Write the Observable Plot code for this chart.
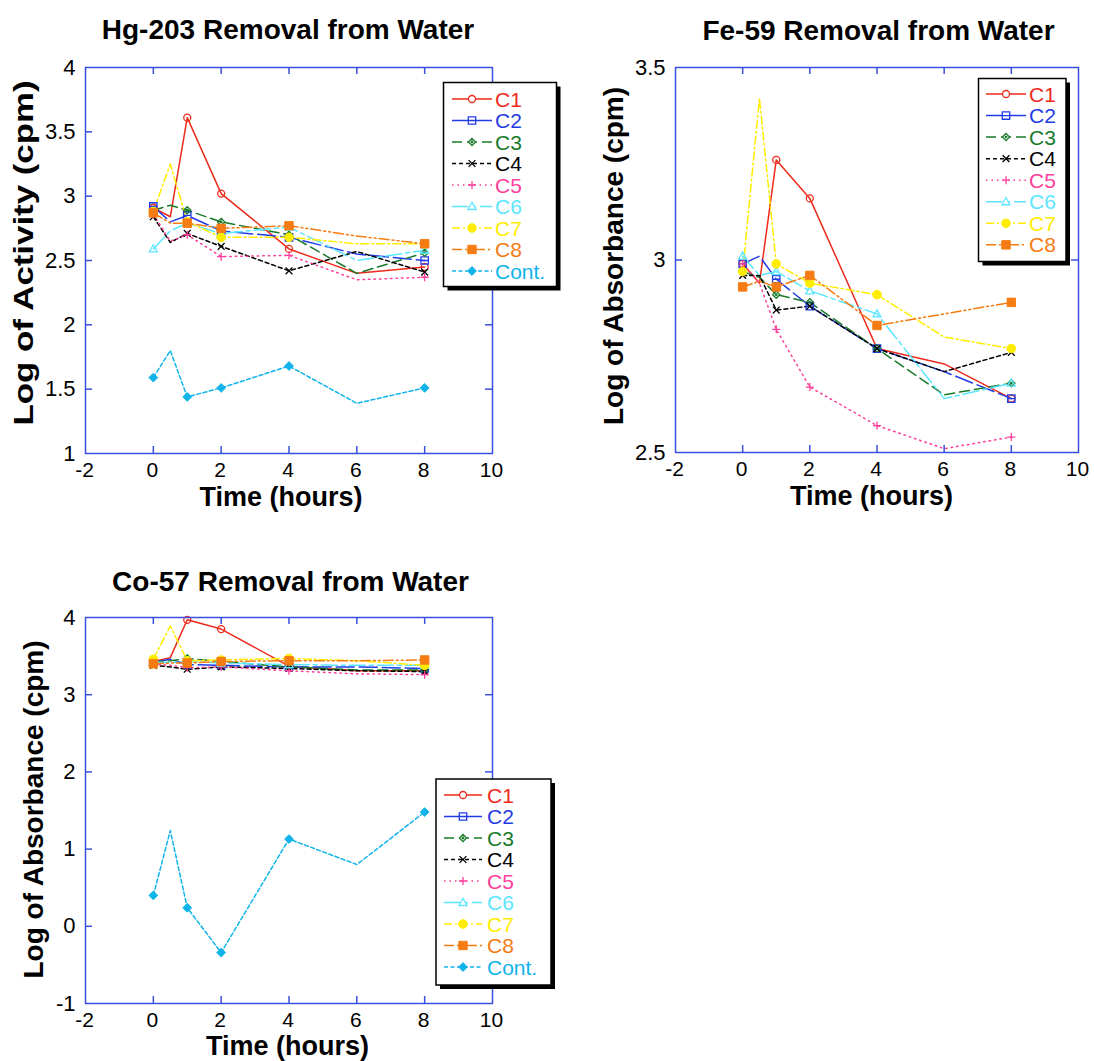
<!DOCTYPE html>
<html><head><meta charset="utf-8">
<script src="https://cdn.jsdelivr.net/npm/d3@7"></script>
<script src="https://cdn.jsdelivr.net/npm/@observablehq/plot@0.6"></script>
<style>
html,body{margin:0;padding:0;background:#fff;}
#root{position:relative;width:1094px;height:1061px;overflow:hidden;font-family:"Liberation Sans",Arial,Helvetica,sans-serif;}
#root > svg{position:absolute;}
</style></head><body><div id="root"></div>
<script>
// ---------- data ----------
const times = [0, 0.5, 1, 2, 4, 6, 8];
const markerTimes = [0, 1, 2, 4, 8];
const seriesNames = ["C1", "C2", "C3", "C4", "C5", "C6", "C7", "C8", "Cont."];

// Hg-203 (rows: C1..C8, Cont.; columns: times)
const hgValues = [
  [2.91, 2.84, 3.61, 3.02, 2.59, 2.40, 2.45],
  [2.92, 2.80, 2.85, 2.73, 2.68, 2.55, 2.50],
  [2.89, 2.93, 2.89, 2.80, 2.70, 2.40, 2.56],
  [2.84, 2.64, 2.71, 2.61, 2.42, 2.57, 2.41],
  [2.86, 2.65, 2.70, 2.53, 2.54, 2.35, 2.37],
  [2.59, 2.73, 2.79, 2.71, 2.76, 2.50, 2.58],
  [2.88, 3.25, 2.80, 2.68, 2.68, 2.63, 2.63],
  [2.87, 2.79, 2.79, 2.75, 2.77, 2.69, 2.63],
  [1.59, 1.80, 1.44, 1.51, 1.68, 1.39, 1.51]
];
// Fe-59 (rows: C1..C8)
const feValues = [
  [2.99, 2.94, 3.26, 3.16, 2.77, 2.73, 2.64],
  [2.99, 3.01, 2.95, 2.88, 2.77, 2.71, 2.64],
  [2.97, 2.955, 2.91, 2.89, 2.77, 2.65, 2.68],
  [2.96, 2.96, 2.87, 2.88, 2.77, 2.71, 2.76],
  [2.99, 2.94, 2.82, 2.67, 2.57, 2.51, 2.54],
  [3.01, 2.96, 2.97, 2.92, 2.86, 2.64, 2.68],
  [2.97, 3.42, 2.99, 2.94, 2.91, 2.80, 2.77],
  [2.93, 2.945, 2.93, 2.96, 2.83, 2.86, 2.89]
];
// Co-57 (rows: C1..C8, Cont.)
const coValues = [
  [3.43, 3.48, 3.97, 3.85, 3.37, 3.31, 3.31],
  [3.42, 3.46, 3.39, 3.38, 3.36, 3.36, 3.34],
  [3.42, 3.44, 3.47, 3.43, 3.36, 3.32, 3.32],
  [3.38, 3.36, 3.33, 3.36, 3.34, 3.31, 3.30],
  [3.40, 3.38, 3.35, 3.36, 3.31, 3.27, 3.26],
  [3.42, 3.42, 3.43, 3.41, 3.39, 3.38, 3.38],
  [3.46, 3.89, 3.44, 3.45, 3.47, 3.44, 3.38],
  [3.40, 3.41, 3.41, 3.43, 3.44, 3.44, 3.45],
  [0.40, 1.24, 0.24, -0.34, 1.13, 0.80, 1.48]
];

const xTickLabels = [-2, 0, 2, 4, 6, 8, 10];
const xTickMarks = [0, 2, 4, 6, 8];
const hgYLabels = [1, 1.5, 2, 2.5, 3, 3.5, 4];
const hgYTicks = [1.5, 2, 2.5, 3, 3.5];
const feYLabels = [2.5, 3, 3.5];
const feYTicks = [3];
const coYLabels = [-1, 0, 1, 2, 3, 4];
const coYTicks = [0, 1, 2, 3];

// ---------- styles ----------
const AXIS = "#3a4fe0";
const FONT = '"Liberation Sans", Arial, Helvetica, sans-serif';
const seriesColors = ["#ee2a1b", "#1f3ce6", "#187a2a", "#000000", "#ff3d9a", "#5ce6ff", "#ffed00", "#f57c12", "#10b4ea"];
const seriesDash = [null, "18,5", "10,5", "4,3", "1.5,4", "16,4,4,4", "8,3,2,3", "10,3,2,3,2,3", "4,2.5"];
const rOf = s => Math.sqrt(s / Math.PI);
const symCircle = {draw(c, s) { const r = rOf(s); c.moveTo(r, 0); c.arc(0, 0, r, 0, 2 * Math.PI); }};
const symSquare = {draw(c, s) { const r = rOf(s); c.moveTo(-r, -r); c.lineTo(r, -r); c.lineTo(r, r); c.lineTo(-r, r); c.closePath(); }};
const symSquareBar = {draw(c, s) { const r = rOf(s); c.moveTo(-r, -r); c.lineTo(r, -r); c.lineTo(r, r); c.lineTo(-r, r); c.closePath(); c.moveTo(-r, 0); c.lineTo(r, 0); }};
const symDiamond = {draw(c, s) { const r = rOf(s); c.moveTo(0, -r); c.lineTo(r, 0); c.lineTo(0, r); c.lineTo(-r, 0); c.closePath(); }};
const symDiamondDot = {draw(c, s) { const r = rOf(s); c.moveTo(0, -r); c.lineTo(r, 0); c.lineTo(0, r); c.lineTo(-r, 0); c.closePath(); const d = 0.8; c.moveTo(d, 0); c.arc(0, 0, d, 0, 2 * Math.PI); }};
const symTimes = {draw(c, s) { const r = rOf(s); c.moveTo(-r, -r); c.lineTo(r, r); c.moveTo(-r, r); c.lineTo(r, -r); }};
const symPlus = {draw(c, s) { const r = rOf(s); c.moveTo(-r, 0); c.lineTo(r, 0); c.moveTo(0, -r); c.lineTo(0, r); }};
const symTriangle = {draw(c, s) { const r = rOf(s); c.moveTo(0, -r); c.lineTo(r * 0.95, r * 0.72); c.lineTo(-r * 0.95, r * 0.72); c.closePath(); }};
const seriesSymbol = [symCircle, symSquareBar, symDiamondDot, symTimes, symPlus, symTriangle, symCircle, symSquare, symDiamond];
const seriesR = [3.5, 3.7, 3.6, 3.4, 4, 4.2, 4.3, 4.2, 4.4];
const seriesFilled = [false, false, false, false, false, false, true, true, true];

const root = document.getElementById("root");

function panel(cfg) {
  const {values, yDomain, yLabels, yTicks, width, height, mL, mR, mT, mB, left, top} = cfg;
  const fw = width - mL - mR, fh = height - mT - mB;
  const marks = [];
  // inward ticks on four sides
  marks.push(Plot.tickX(xTickMarks, {x: d => d, stroke: AXIS, strokeWidth: 1.5, insetTop: fh - 7}));
  marks.push(Plot.tickX(xTickMarks, {x: d => d, stroke: AXIS, strokeWidth: 1.5, insetBottom: fh - 7}));
  marks.push(Plot.tickY(yTicks, {y: d => d, stroke: AXIS, strokeWidth: 1.5, insetRight: fw - 7}));
  marks.push(Plot.tickY(yTicks, {y: d => d, stroke: AXIS, strokeWidth: 1.5, insetLeft: fw - 7}));
  // tick labels
  marks.push(Plot.text(xTickLabels, {x: d => d, text: d => String(d), frameAnchor: "bottom", lineAnchor: "top", dy: 9, dx: -1, fontSize: 21, fill: "black"}));
  marks.push(Plot.text(yLabels, {y: d => d, text: d => String(d), frameAnchor: "left", textAnchor: "end", lineAnchor: "middle", dx: -10, fontSize: 22, fill: "black"}));
  // series lines
  values.forEach((vals, i) => {
    const rows = times.map((t, j) => ({t, v: vals[j]}));
    marks.push(Plot.line(rows, {x: "t", y: "v", stroke: seriesColors[i], strokeWidth: 1.5,
      strokeDasharray: seriesDash[i] || undefined}));
  });
  // markers
  values.forEach((vals, i) => {
    const rows = times.map((t, j) => ({t, v: vals[j]})).filter(d => markerTimes.includes(d.t));
    marks.push(Plot.dot(rows, {x: "t", y: "v", symbol: seriesSymbol[i], r: seriesR[i],
      stroke: seriesColors[i], strokeWidth: seriesFilled[i] ? 1 : 1.3,
      fill: seriesFilled[i] ? seriesColors[i] : "none"}));
  });
  marks.push(Plot.frame({stroke: AXIS, strokeWidth: 1.5}));
  // titles
  marks.push(Plot.text([cfg.title], {text: d => d, frameAnchor: "top", textAnchor: "middle", lineAnchor: "middle", dx: cfg.titleDx, dy: cfg.titleDy, fontSize: 28, fontWeight: "bold", fill: "black"}));
  marks.push(Plot.text([cfg.xlabel], {text: d => d, frameAnchor: "bottom", textAnchor: "middle", lineAnchor: "middle", dx: cfg.xlabelDx, dy: cfg.xlabelDy, fontSize: 27, fontWeight: "bold", fill: "black"}));
  marks.push(Plot.text([cfg.ylabel], {text: d => d, frameAnchor: "left", textAnchor: "middle", lineAnchor: "middle", rotate: -90, dx: cfg.ylabelDx, dy: cfg.ylabelDy, fontSize: 28, fontWeight: "bold", fill: "black"}));

  const svg = Plot.plot({
    width, height,
    marginLeft: mL, marginRight: mR, marginTop: mT, marginBottom: mB,
    x: {domain: [-2, 10], axis: null},
    y: {domain: yDomain, axis: null},
    style: {fontFamily: FONT, color: "black", background: "transparent", overflow: "visible"},
    marks
  });
  svg.style.left = left + "px";
  svg.style.top = top + "px";
  root.appendChild(svg);
  if (cfg.ylabelLength) {
    d3.select(svg).selectAll("text").filter(function () { return this.textContent === cfg.ylabel; })
      .attr("textLength", cfg.ylabelLength).attr("lengthAdjust", "spacingAndGlyphs");
  }
  return svg;
}

panel({values: hgValues, yDomain: [1, 4], yLabels: hgYLabels, yTicks: hgYTicks,
  width: 560, height: 520, mL: 85, mR: 68, mT: 67, mB: 67, left: 0, top: 0,
  title: "Hg-203 Removal from Water", titleDx: -1, titleDy: -37.5,
  xlabel: "Time (hours)", xlabelDx: -8, xlabelDy: 43.5,
  ylabel: "Log of Activity (cpm)", ylabelDx: -61.5, ylabelDy: -7.5, ylabelLength: 345});

panel({values: feValues, yDomain: [2.5, 3.5], yLabels: feYLabels, yTicks: feYTicks,
  width: 534, height: 520, mL: 115, mR: 16, mT: 67, mB: 68, left: 560, top: 0,
  title: "Fe-59 Removal from Water", titleDx: 1.5, titleDy: -36.5,
  xlabel: "Time (hours)", xlabelDx: -5.5, xlabelDy: 44,
  ylabel: "Log of Absorbance (cpm)", ylabelDx: -61.5, ylabelDy: -4});

panel({values: coValues, yDomain: [-1, 4], yLabels: coYLabels, yTicks: coYTicks,
  width: 560, height: 521, mL: 85, mR: 68, mT: 77, mB: 58, left: 0, top: 540,
  title: "Co-57 Removal from Water", titleDx: 1.5, titleDy: -35,
  xlabel: "Time (hours)", xlabelDx: -1.5, xlabelDy: 43,
  ylabel: "Log of Absorbance (cpm)", ylabelDx: -51.5, ylabelDy: -1});

// ---------- legends ----------
const ov = d3.select(root).append("svg")
  .attr("width", 1094).attr("height", 1061)
  .style("left", "0px").style("top", "0px")
  .style("font-family", FONT);

function legend(box, count) {
  const g = ov.append("g");
  g.append("rect").attr("x", box.x + 4).attr("y", box.y + 4).attr("width", box.w).attr("height", box.h).attr("fill", "black");
  g.append("rect").attr("x", box.x).attr("y", box.y).attr("width", box.w).attr("height", box.h)
    .attr("fill", "white").attr("stroke", "black").attr("stroke-width", 1.5);
  for (let i = 0; i < count; i++) {
    const y = box.row0 + i * box.step;
    g.append("line").attr("x1", box.lx1).attr("x2", box.lx2).attr("y1", y).attr("y2", y)
      .attr("stroke", seriesColors[i]).attr("stroke-width", 1.5)
      .attr("stroke-dasharray", seriesDash[i]);
    g.append("path")
      .attr("d", d3.symbol(seriesSymbol[i], Math.PI * seriesR[i] * seriesR[i])())
      .attr("transform", `translate(${box.mx},${y})`)
      .attr("fill", seriesFilled[i] ? seriesColors[i] : "white")
      .attr("stroke", seriesColors[i]).attr("stroke-width", seriesFilled[i] ? 1 : 1.3);
    g.append("text").attr("x", box.tx).attr("y", y + 7.5).attr("font-size", 21)
      .attr("fill", seriesColors[i]).text(seriesNames[i]);
  }
}
legend({x: 443.5, y: 82.5, w: 113, h: 204, row0: 99, step: 21.5, lx1: 452, lx2: 492, mx: 472, tx: 495}, 9);
legend({x: 978.5, y: 78.5, w: 87.5, h: 183, row0: 94, step: 21.55, lx1: 986, lx2: 1026, mx: 1006, tx: 1029}, 8);
legend({x: 436, y: 779, w: 115, h: 206, row0: 795, step: 21.5, lx1: 444, lx2: 482, mx: 463, tx: 487}, 9);
</script></body></html>
